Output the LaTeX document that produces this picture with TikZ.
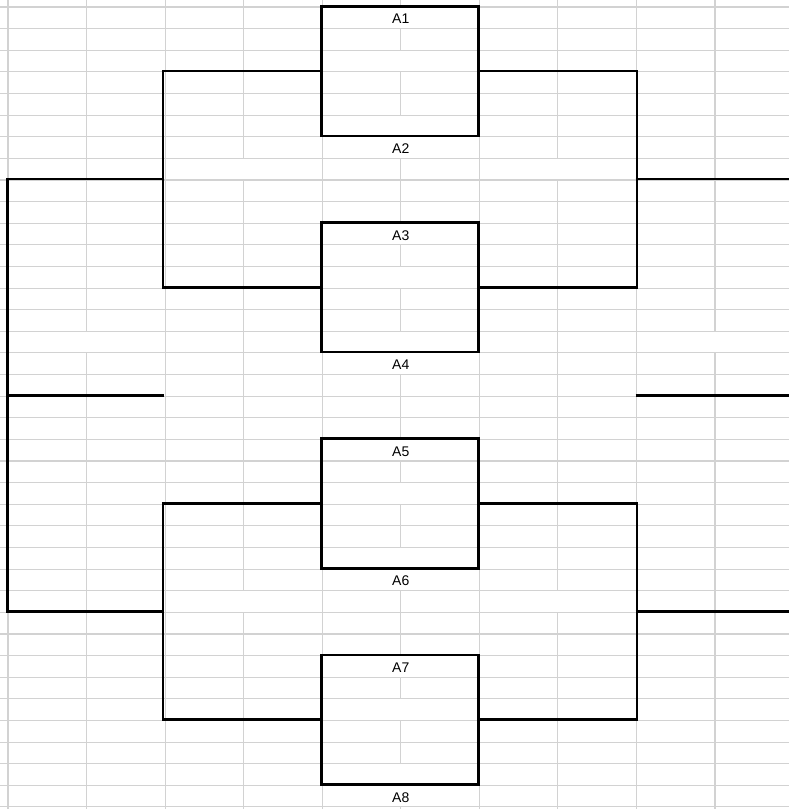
\documentclass[tikz,border=0pt]{standalone}
\usepackage{fontspec}
\setmainfont{Liberation Sans}
\usepackage{xcolor}
\usepackage{tikz}
\usetikzlibrary{positioning}
\definecolor{gridgray}{HTML}{D2D2D2}

\begin{document}
\begin{tikzpicture}[x=78.55pt, y=-21.62pt,
  cell/.style={gridgray,line width=1.1pt},
  pairbox/.style={draw=black,line width=2.6pt,minimum width=157.1pt,minimum height=129.72pt,inner sep=0pt},
  lbl/.style={anchor=base,font=\fontsize{14pt}{16pt}\selectfont,inner sep=0pt},
  wire/.style={black,line width=2.6pt}]
  \useasboundingbox (-0.10185,-0.3238) rectangle (9.9427,37.0953);
  \clip (-0.10185,-0.3238) rectangle (9.9427,37.0953);
  % sheet grid
  \foreach \j in {0,...,37} \draw[cell] (-1,\j) -- (11,\j);
  \foreach \k in {0,2,4,6,8} \draw[cell] (\k,-1) -- (\k,38);
  \foreach \k in {1,9} {\draw[cell] (\k,-1) -- (\k,15); \draw[cell] (\k,16) -- (\k,38);}
  \foreach \k in {3,7} {\draw[cell] (\k,-1) -- (\k,7); \draw[cell] (\k,8) -- (\k,27); \draw[cell] (\k,28) -- (\k,38);}
  \draw[cell] (5,-1) -- (5,0) (5,37) -- (5,38);
  \foreach \b in {0,10,20,30} \draw[cell] (5,\b+1) -- (5,\b+2) (5,\b+3) -- (5,\b+5);
  \foreach \b in {0,10,20} \draw[cell] (5,\b+7) -- (5,\b+10);
  \foreach \i/\j in {1/0,2/6,3/10,4/16,5/20,6/26,7/30,8/36} \node[lbl] (a\i) at (5,\j+0.78) {A\i};
  \begin{scope}[shift={(-0.8pt,0.8pt)}]
  % first round boxes
  \foreach \i/\b in {1/0,2/10,3/20,4/30} \node[pairbox] (p\i) at (5,\b+3) {};
  % left side
  \coordinate (L1) at (2,8); \coordinate (L2) at (2,28);
  \coordinate (L0) at (0,18); \coordinate (Lm) at (2,18);
  \draw[wire] (p1.west) -- ++(-2,0) |- (p2.west);
  \draw[wire] (p3.west) -- ++(-2,0) |- (p4.west);
  \draw[wire] (L1) -| (L0) |- (L2);
  \draw[wire] (L0) -- (Lm);
  % right side
  \draw[wire] (p1.east) -- ++(2,0) |- (p2.east);
  \draw[wire] (p3.east) -- ++(2,0) |- (p4.east);
  \foreach \n/\y in {1/8,0/18,2/28} {
    \coordinate (R\n) at (8,\y); \coordinate (E\n) at (10,\y);
    \draw[wire] (R\n) -- (E\n);}
  \end{scope}
\end{tikzpicture}
\end{document}
